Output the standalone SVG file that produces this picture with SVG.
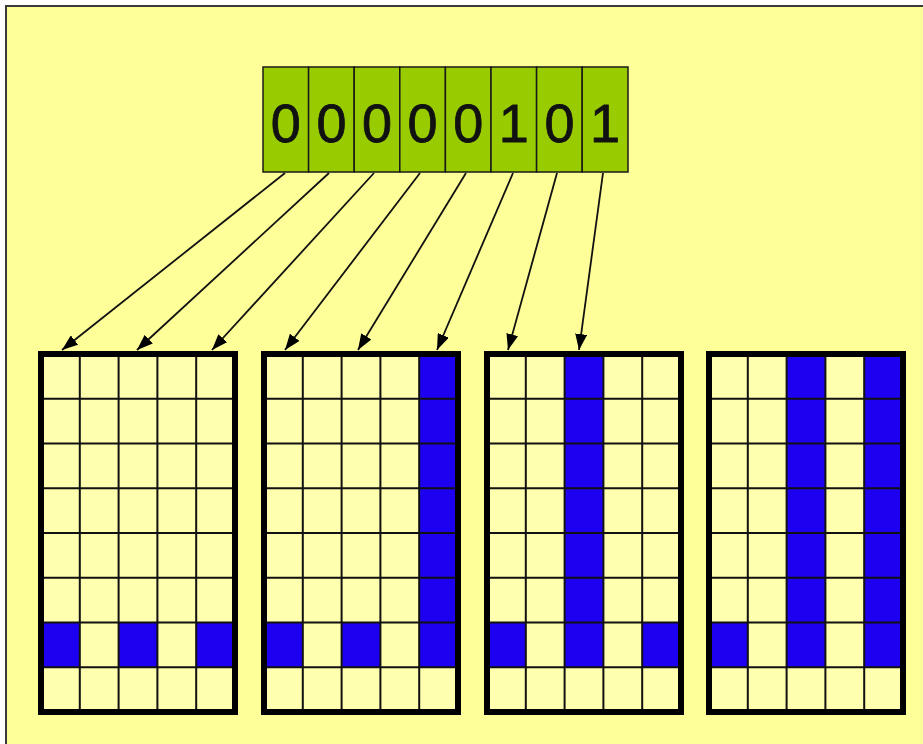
<svg xmlns="http://www.w3.org/2000/svg" width="923" height="744" viewBox="0 0 923 744">
<defs>
<style>
.bg{fill:#ffff99}
.frame{fill:none;stroke:#3a3a3a;stroke-width:2}
.cell{fill:#99cc00;stroke:#1a1a1a;stroke-width:1.5}
.digit{font-family:"Liberation Sans",Arial,sans-serif;font-size:54px;fill:#111;stroke:#111;stroke-width:0.8;text-anchor:middle}
.pfill{fill:#ffffb0}
.blue{fill:#1e00f0}
.grid{fill:none;stroke:#111;stroke-width:2}
.border{fill:none;stroke:#000;stroke-width:6}
.arrow{stroke:#111;stroke-width:1.8;fill:none;marker-end:url(#ah)}
</style>
<marker id="ah" viewBox="0 0 16 12" refX="16" refY="6" markerWidth="16" markerHeight="12" markerUnits="userSpaceOnUse" orient="auto">
<path d="M0,0 L16,6 L0,12 Z" fill="#000"/>
</marker>
<path id="g" d="M38.8,0 V358 M77.6,0 V358 M116.4,0 V358 M155.2,0 V358 M0,44.75 H194 M0,89.5 H194 M0,134.25 H194 M0,179 H194 M0,223.75 H194 M0,268.5 H194 M0,313.25 H194"/>
</defs>
<rect width="923" height="744" fill="#fff"/>
<rect x="6" y="6" width="917" height="738" class="bg"/>
<path class="frame" d="M6,744 V6 H923"/>

<g id="byte">
<rect class="cell" x="263" y="67" width="45.6" height="105"/>
<rect class="cell" x="308.6" y="67" width="45.6" height="105"/>
<rect class="cell" x="354.2" y="67" width="45.6" height="105"/>
<rect class="cell" x="399.8" y="67" width="45.6" height="105"/>
<rect class="cell" x="445.4" y="67" width="45.6" height="105"/>
<rect class="cell" x="491" y="67" width="45.6" height="105"/>
<rect class="cell" x="536.6" y="67" width="45.6" height="105"/>
<rect class="cell" x="582.2" y="67" width="45.8" height="105"/>
<text class="digit" x="285.8" y="142">0</text>
<text class="digit" x="331.4" y="142">0</text>
<text class="digit" x="377" y="142">0</text>
<text class="digit" x="422.6" y="142">0</text>
<text class="digit" x="468.2" y="142">0</text>
<text class="digit" x="513.8" y="142">1</text>
<text class="digit" x="559.4" y="142">0</text>
<text class="digit" x="605" y="142">1</text>
</g>

<g id="connectors">
<line class="arrow" x1="285" y1="173" x2="62" y2="350"/>
<line class="arrow" x1="329" y1="173" x2="137" y2="350"/>
<line class="arrow" x1="374" y1="173" x2="212" y2="350"/>
<line class="arrow" x1="420" y1="173" x2="285" y2="350"/>
<line class="arrow" x1="466" y1="173" x2="358" y2="350"/>
<line class="arrow" x1="513" y1="173" x2="437" y2="350"/>
<line class="arrow" x1="557" y1="173" x2="508" y2="350"/>
<line class="arrow" x1="603" y1="173" x2="579" y2="350"/>
</g>

<g id="panel1" transform="translate(41,354)">
<rect class="pfill" width="194" height="358"/>
<rect class="blue" x="0" y="268.5" width="38.8" height="44.75"/>
<rect class="blue" x="77.6" y="268.5" width="38.8" height="44.75"/>
<rect class="blue" x="155.2" y="268.5" width="38.8" height="44.75"/>
<use href="#g" class="grid"/>
<rect class="border" width="194" height="358"/>
</g>

<g id="panel2" transform="translate(264,354)">
<rect class="pfill" width="194" height="358"/>
<rect class="blue" x="0" y="268.5" width="38.8" height="44.75"/>
<rect class="blue" x="77.6" y="268.5" width="38.8" height="44.75"/>
<rect class="blue" x="155.2" y="0" width="38.8" height="313.25"/>
<use href="#g" class="grid"/>
<rect class="border" width="194" height="358"/>
</g>

<g id="panel3" transform="translate(487,354)">
<rect class="pfill" width="194" height="358"/>
<rect class="blue" x="0" y="268.5" width="38.8" height="44.75"/>
<rect class="blue" x="77.6" y="0" width="38.8" height="313.25"/>
<rect class="blue" x="155.2" y="268.5" width="38.8" height="44.75"/>
<use href="#g" class="grid"/>
<rect class="border" width="194" height="358"/>
</g>

<g id="panel4" transform="translate(709,354)">
<rect class="pfill" width="194" height="358"/>
<rect class="blue" x="0" y="268.5" width="38.8" height="44.75"/>
<rect class="blue" x="77.6" y="0" width="38.8" height="313.25"/>
<rect class="blue" x="155.2" y="0" width="38.8" height="313.25"/>
<use href="#g" class="grid"/>
<rect class="border" width="194" height="358"/>
</g>
</svg>
